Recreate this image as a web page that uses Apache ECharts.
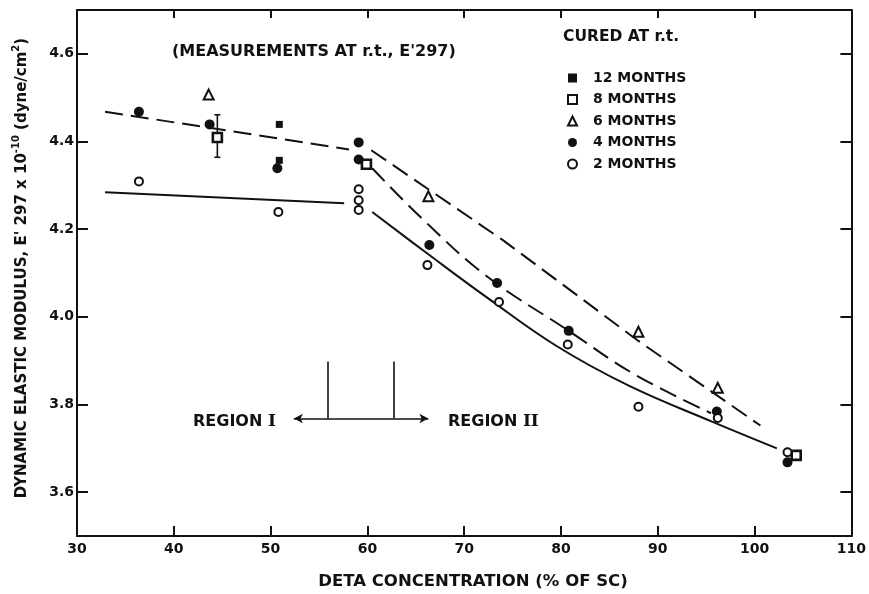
<!DOCTYPE html>
<html>
<head>
<meta charset="utf-8">
<script src="https://cdn.jsdelivr.net/npm/echarts@6/dist/echarts.min.js"></script>
<style>
html, body { margin: 0; padding: 0; background: #fff; }
#chart { width: 869px; height: 594px; }
</style>
</head>
<body>
<div id="chart"></div>
<script>
// x: DETA concentration (% of SC), y: E'297 x 10^-10 (dyne/cm2)
var months12 = [[50.9, 4.439], [50.9, 4.357]];
var months8 = [[44.5, 4.409], [59.9, 4.348], [104.3, 3.684]];
var months6 = [[43.6, 4.507], [66.3, 4.275], [88.0, 3.966], [96.2, 3.838]];
var months4 = [[36.4, 4.468], [43.7, 4.439], [50.7, 4.339], [59.1, 4.398], [59.1, 4.359],
               [66.4, 4.164], [73.4, 4.077], [80.8, 3.968], [96.1, 3.784], [103.4, 3.668]];
var months2 = [[36.4, 4.309], [50.8, 4.239], [59.1, 4.291], [59.1, 4.266], [59.1, 4.244],
               [66.2, 4.118], [73.6, 4.034], [80.7, 3.937], [88.0, 3.795], [96.2, 3.769], [103.4, 3.691]];
// error bar: x, low, high
var errBars = [[44.5, 4.364, 4.461]];

// 拟合线
var dashRegion1 = [[32.9, 4.468], [58.1, 4.382]];
var dash6Months = [[60.4, 4.38], [74.0, 4.175], [88.0, 3.945], [100.6, 3.752]];
var dash4Months = [[60.5, 4.339], [65.7, 4.223], [72.3, 4.093], [80.8, 3.968], [87.5, 3.87], [95.5, 3.78]];
var solidRegion1 = [[32.9, 4.284], [57.6, 4.259]];
var solid2Months = [[60.5, 4.239], [66.4, 4.141], [72.3, 4.045], [79.5, 3.934], [87.0, 3.843], [95.6, 3.761], [102.3, 3.70]];

// region I / II marker (data coords)
var regionBounds = [55.9, 62.7];
var regionTop = 3.898;
var regionLevel = 3.768;
var regionArrow = [52.4, 66.3];

var yTicks = [3.6, 3.8, 4.0, 4.2, 4.4, 4.6];
var legendNames = ['12 MONTHS', '8 MONTHS', '6 MONTHS', '4 MONTHS', '2 MONTHS'];

var ink = '#111';
var fontFam = '"DejaVu Sans", sans-serif';

var myChart = echarts.init(document.getElementById('chart'));

function axisX(pos, showLabel, tickLen) {
    return {
        type: 'value', position: pos, min: 30, max: 110, interval: 10,
        axisLine: { onZero: false, lineStyle: { color: ink, width: 2 } },
        axisTick: { show: true, inside: true, length: tickLen, lineStyle: { color: ink, width: 2 } },
        axisLabel: { show: showLabel, margin: 6, color: ink, fontFamily: fontFam, fontWeight: 'bold', fontSize: 14 },
        splitLine: { show: false }
    };
}
function axisY(pos, showLabel) {
    return {
        type: 'value', position: pos, min: 3.5, max: 4.7, interval: 0.1,
        axisLine: { onZero: false, lineStyle: { color: ink, width: 2 } },
        axisTick: { show: true, inside: true, length: 11, customValues: yTicks, lineStyle: { color: ink, width: 2 } },
        axisLabel: {
            show: showLabel, margin: 3, color: ink, fontFamily: fontFam, fontWeight: 'bold', fontSize: 14,
            customValues: yTicks,
            formatter: function (v) { return v.toFixed(1); }
        },
        splitLine: { show: false }
    };
}

function fitLine(data, dashed, smooth) {
    return {
        type: 'line', data: data, symbol: 'none', smooth: smooth, silent: true, z: 1,
        lineStyle: { color: ink, width: 2, type: dashed ? [18, 8] : 'solid' }
    };
}

var regionLines = [
    [{ coord: [regionBounds[0], regionTop] }, { coord: [regionBounds[0], regionLevel] }],
    [{ coord: [regionBounds[1], regionTop] }, { coord: [regionBounds[1], regionLevel] }],
    [{ coord: [regionArrow[0], regionLevel], symbol: 'arrow' }, { coord: [regionArrow[1], regionLevel], symbol: 'arrow' }]
];

var option = {
    backgroundColor: '#fff',
    animation: false,
    grid: { left: 77, right: 15, top: 10, bottom: 58 },
    xAxis: [axisX('bottom', true, 10), axisX('top', false, 8)],
    yAxis: [axisY('left', true), axisY('right', false)],
    legend: {
        data: legendNames,
        orient: 'vertical',
        left: 562, top: 66,
        itemWidth: 9, itemHeight: 9, itemGap: 7.5,
        textStyle: { color: ink, fontFamily: fontFam, fontWeight: 'bold', fontSize: 14, lineHeight: 14, padding: [0, 0, 0, 11] }
    },
    graphic: [
        { type: 'text', x: 172, y: 52, style: { text: "(MEASUREMENTS AT r.t., E'297)", fill: ink, font: 'bold 16px ' + fontFam, verticalAlign: 'middle' } },
        { type: 'text', x: 563, y: 37, style: { text: 'CURED AT r.t.', fill: ink, font: 'bold 15.5px ' + fontFam, verticalAlign: 'middle' } },
        { type: 'text', x: 473, y: 582, style: { text: 'DETA CONCENTRATION (% OF SC)', fill: ink, font: 'bold 16.5px ' + fontFam, align: 'center', verticalAlign: 'middle' } },
        {
            type: 'text', x: 22, y: 268, rotation: Math.PI / 2,
            style: {
                text: "{n|DYNAMIC ELASTIC MODULUS, E' 297 x 10}{s|-10}{n| (dyne/cm}{s|2}{n|)}",
                fill: ink, align: 'center', verticalAlign: 'middle',
                rich: {
                    n: { fill: ink, font: 'bold 15px ' + fontFam, lineHeight: 20 },
                    s: { fill: ink, font: 'bold 10px ' + fontFam, lineHeight: 20, padding: [0, 0, 11, 0] }
                }
            }
        },
        {
            type: 'text', x: 193, y: 422,
            style: {
                text: '{a|REGION }{r|I}', verticalAlign: 'middle',
                rich: { a: { fill: ink, font: 'bold 16px ' + fontFam }, r: { fill: ink, font: 'bold 17px "DejaVu Serif", serif' } }
            }
        },
        {
            type: 'text', x: 448, y: 422,
            style: {
                text: '{a|REGION }{r|II}', verticalAlign: 'middle',
                rich: { a: { fill: ink, font: 'bold 16px ' + fontFam }, r: { fill: ink, font: 'bold 17px "DejaVu Serif", serif' } }
            }
        }
    ],
    series: [
        fitLine(dashRegion1, true, false),
        fitLine(dash6Months, true, false),
        fitLine(dash4Months, true, 0.4),
        fitLine(solidRegion1, false, false),
        fitLine(solid2Months, false, 0.4),
        {
            type: 'line', data: [], silent: true,
            markLine: {
                silent: true, symbol: 'none', symbolSize: [7, 9],
                label: { show: false },
                lineStyle: { color: ink, width: 1.6, type: 'solid' },
                data: regionLines
            }
        },
        {
            type: 'custom', data: errBars, silent: true, z: 3,
            encode: { x: 0, y: [1, 2] },
            renderItem: function (params, api) {
                var lo = api.coord([api.value(0), api.value(1)]);
                var hi = api.coord([api.value(0), api.value(2)]);
                var st = { stroke: ink, lineWidth: 1.6 };
                return {
                    type: 'group',
                    children: [
                        { type: 'line', shape: { x1: lo[0], y1: lo[1], x2: hi[0], y2: hi[1] }, style: st },
                        { type: 'line', shape: { x1: lo[0] - 3, y1: lo[1], x2: lo[0] + 3, y2: lo[1] }, style: st },
                        { type: 'line', shape: { x1: hi[0] - 3, y1: hi[1], x2: hi[0] + 3, y2: hi[1] }, style: st }
                    ]
                };
            }
        },
        {
            name: '12 MONTHS', type: 'scatter', data: months12, symbol: 'rect', symbolSize: 7, z: 5,
            itemStyle: { color: ink, opacity: 1 }
        },
        {
            name: '8 MONTHS', type: 'scatter', data: months8, symbol: 'rect', symbolSize: 9, z: 5,
            itemStyle: { color: '#fff', borderColor: ink, borderWidth: 2.6, opacity: 1 }
        },
        {
            name: '6 MONTHS', type: 'scatter', data: months6, symbol: 'triangle', symbolSize: 10, z: 5,
            itemStyle: { color: '#fff', borderColor: ink, borderWidth: 2, opacity: 1 }
        },
        {
            name: '4 MONTHS', type: 'scatter', data: months4, symbol: 'circle', symbolSize: 10, z: 5,
            itemStyle: { color: ink, opacity: 1 }
        },
        {
            name: '2 MONTHS', type: 'scatter', data: months2, symbol: 'circle', symbolSize: 8, z: 5,
            itemStyle: { color: '#fff', borderColor: ink, borderWidth: 2, opacity: 1 }
        }
    ]
};

myChart.setOption(option, true);
window.addEventListener('resize', myChart.resize);
</script>
</body>
</html>
